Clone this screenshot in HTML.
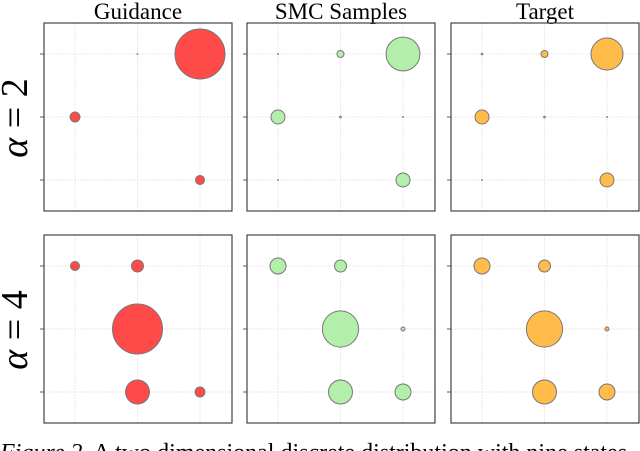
<!DOCTYPE html>
<html><head><meta charset="utf-8"><style>
html,body{margin:0;padding:0;background:#fff;width:640px;height:451px;overflow:hidden}
svg{display:block}
</style></head><body>
<svg id="fig" width="640" height="451" viewBox="0 0 640 451" font-family="Liberation Serif, serif">
<text x="138" y="19" font-size="23" text-anchor="middle">Guidance</text>
<text x="341" y="19" font-size="23" text-anchor="middle">SMC Samples</text>
<text x="545" y="19" font-size="23" text-anchor="middle">Target</text>
<text transform="translate(27,118) rotate(-90)" font-size="38" text-anchor="middle"><tspan font-style="italic">α</tspan> = 2</text>
<text transform="translate(27,330) rotate(-90)" font-size="38" text-anchor="middle"><tspan font-style="italic">α</tspan> = 4</text>
<text x="0" y="460" font-size="24"><tspan font-style="italic">Figure 2.</tspan> A two dimensional discrete distribution with nine states</text>
<g id="panels"></g>
</svg>
<script>
// probabilities per panel, rows top→bottom, cols left→right
const guidanceA2 = [[0.0,0.001,0.61],[0.024,0.0,0.0],[0.0,0.0,0.02]];
const smcA2      = [[0.001,0.012,0.28],[0.048,0.002,0.001],[0.001,0.0,0.048]];
const targetA2   = [[0.002,0.012,0.25],[0.048,0.002,0.001],[0.001,0.0,0.048]];
const guidanceA4 = [[0.02,0.035,0.0],[0.0,0.61,0.0],[0.0,0.14,0.024]];
const smcA4      = [[0.0625,0.035,0.0],[0.0,0.32,0.004],[0.0,0.14,0.0625]];
const targetA4   = [[0.0625,0.035,0.0],[0.0,0.32,0.004],[0.0,0.14,0.0625]];
const panelData = [[guidanceA2,smcA2,targetA2],[guidanceA4,smcA4,targetA4]];
const panelNames = [["guidance-alpha-2","smc-alpha-2","target-alpha-2"],["guidance-alpha-4","smc-alpha-4","target-alpha-4"]];
const colors = ["#ff4a4a","#b2efaa","#ffbc4a"];

const NS="http://www.w3.org/2000/svg";
const g=document.getElementById('panels');
const px0=[44,247,451], py0=[23,235], W=188;
function mk(t,a,parent){const e=document.createElementNS(NS,t);for(const k in a)e.setAttribute(k,a[k]);parent.appendChild(e);return e;}
function rScale(p){return 32*Math.sqrt(p);}
for(let r=0;r<2;r++)for(let c=0;c<3;c++){
  const x0=px0[c], y0=py0[r];
  const xs=i=>x0+31+i*62.5, ys=j=>y0+31+j*63;
  const pg=mk('g',{},g);
  
  
  for(let i=0;i<3;i++){
    const gv=mk('line',{x1:xs(i),x2:xs(i),y1:y0,y2:y0+W,stroke:'#e4e4e4','stroke-width':0.8,'stroke-dasharray':'2,1'},pg);
    
    
    const gh=mk('line',{x1:x0,x2:x0+W,y1:ys(i),y2:ys(i),stroke:'#e4e4e4','stroke-width':0.8,'stroke-dasharray':'2,1'},pg);
    
    
    const tk=mk('line',{x1:x0-4,x2:x0,y1:ys(i),y2:ys(i),stroke:'#333','stroke-width':0.8},pg);
    
    
  }
  const fr=mk('rect',{x:x0,y:y0,width:W,height:W,fill:'none',stroke:'#444','stroke-width':1.2},pg);
  
  
  const d=panelData[r][c];
  for(let j=0;j<3;j++)for(let i=0;i<3;i++){
    const p=d[j][i]; if(p<=0) continue;
    const rad=rScale(p);
    const ci=mk('circle',{cx:xs(i),cy:ys(j),r:Math.max(rad,0.8),fill:rad<1.5?'#888':colors[c],stroke:'#777','stroke-width':rad<1.5?0:1},pg);
    
    
  }
}
</script>
</body></html>
